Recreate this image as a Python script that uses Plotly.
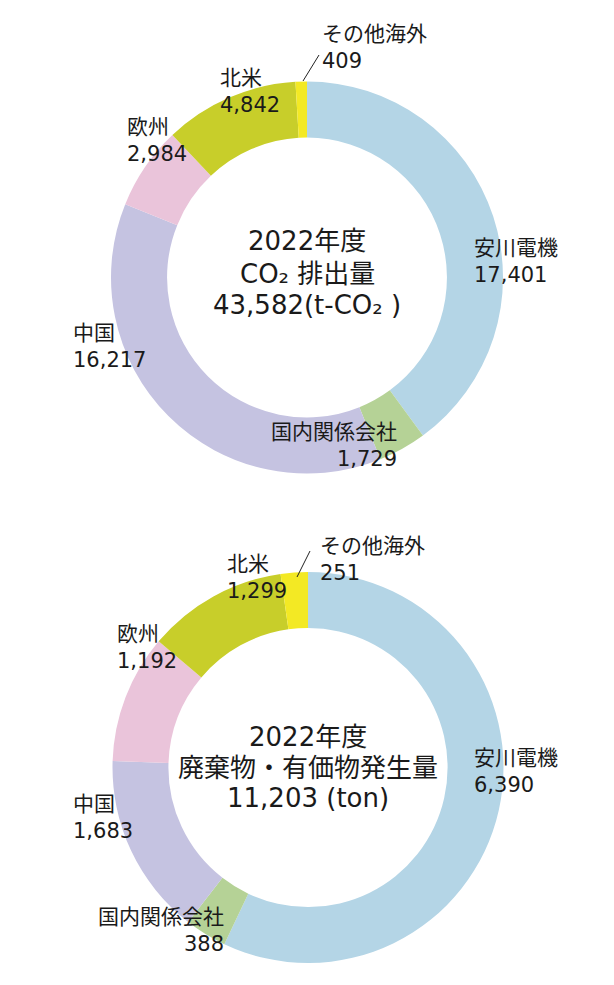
import plotly.graph_objects as go

W, H = 614, 985
OFF = 8  # page body margin in the browser

# ---- data ----
categories = ["安川電機", "国内関係会社", "中国", "欧州", "北米", "その他海外"]
co2_values = [17401, 1729, 16217, 2984, 4842, 409]
waste_values = [6390, 388, 1683, 1192, 1299, 251]
co2_title = ["2022年度", "CO₂ 排出量", "43,582(t-CO₂ )"]
waste_title = ["2022年度", "廃棄物・有価物発生量", "11,203 (ton)"]

colors = ["#B4D5E6", "#B5D296", "#C5C3E1", "#EAC4DA", "#C8CE2A", "#F3E924"]

FONT = "DejaVu Sans, Noto Sans CJK JP, sans-serif"
TXT = "#1a1a1a"


def px(x):
    return (x - OFF) / W


def py(y):
    return 1 - (y - OFF) / H


fig = go.Figure()

# donut geometry (pixels): center x, center y, outer radius
donuts = [
    (co2_values, 307, 277.5, 196),
    (waste_values, 308, 767.5, 195.5),
]
for vals, cx, cy, r in donuts:
    fig.add_trace(go.Pie(
        labels=categories, values=vals, sort=False, direction="clockwise",
        rotation=0, hole=0.714, textinfo="none", hoverinfo="label+value",
        marker=dict(colors=colors, line=dict(width=0)),
        domain=dict(x=[px(cx - r), px(cx + r)], y=[py(cy + r), py(cy - r)]),
        showlegend=False,
    ))

# label placements: (anchor x, center y, xanchor)
co2_pos = [(472, 262, "left"), (399, 445, "right"), (71, 346, "left"),
           (125, 141, "left"), (218, 92, "left"), (320, 47, "left")]
waste_pos = [(472, 771, "left"), (226, 930, "right"), (71, 817, "left"),
             (115, 647, "left"), (225, 577, "left"), (318, 559, "left")]

annotations = []
for vals, positions in [(co2_values, co2_pos), (waste_values, waste_pos)]:
    for name, v, (x, y, xa) in zip(categories, vals, positions):
        annotations.append(dict(
            x=px(x), y=py(y), xref="paper", yref="paper",
            text=f"{name}<br>{v:,}", showarrow=False,
            xanchor=xa, yanchor="middle", align=xa,
            font=dict(family=FONT, size=21, color=TXT),
        ))

title_rows = [(co2_title, 307, [241, 274, 305]), (waste_title, 308, [737, 768, 798])]
for lines, cx, ys in title_rows:
    for line, y in zip(lines, ys):
        annotations.append(dict(
            x=px(cx), y=py(y), xref="paper", yref="paper",
            text=line, showarrow=False,
            xanchor="center", yanchor="middle", align="center",
            font=dict(family=FONT, size=26, color=TXT),
        ))

shapes = [
    dict(type="line", xref="paper", yref="paper",
         x0=px(303), y0=py(81), x1=px(319), y1=py(55),
         line=dict(color="#222", width=1)),
    dict(type="line", xref="paper", yref="paper",
         x0=px(297), y0=py(577), x1=px(310), y1=py(551),
         line=dict(color="#222", width=1)),
]

fig.update_layout(
    width=W, height=H, margin=dict(l=0, r=0, t=0, b=0),
    paper_bgcolor="white", plot_bgcolor="white",
    annotations=annotations, shapes=shapes,
)

fig.write_html("out.html")
